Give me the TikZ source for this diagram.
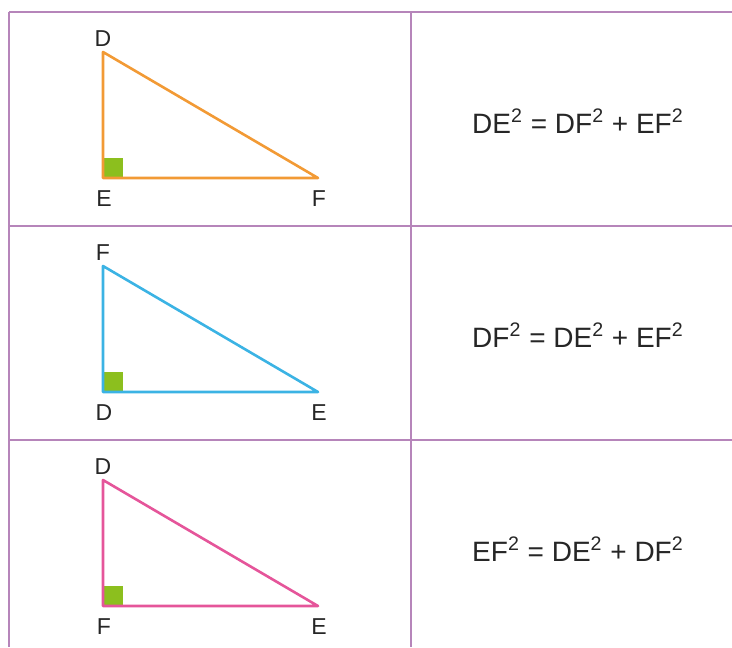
\documentclass[tikz,border=0pt]{standalone}
\usepackage{fontspec}
\setmainfont{Liberation Sans}
\definecolor{gridline}{HTML}{B685BA}
\definecolor{triorange}{HTML}{F29A35}
\definecolor{triblue}{HTML}{3BB3E4}
\definecolor{tripink}{HTML}{E5559A}
\definecolor{rightmark}{HTML}{8CBF1E}
\begin{document}
\begin{tikzpicture}[x=0.5pt,y=-0.5pt,
    vlabel/.style={font=\fontsize{11.5}{13}\selectfont, text=black!85, inner sep=0pt},
    side/.style={line width=1.3pt, line join=round},
    eqn/.style={font=\fontsize{14}{16}\selectfont, text=black!85, inner sep=0pt}]
    \useasboundingbox (0,0) rectangle (732,647);
    % table grid
    \draw[gridline, line width=1pt] (9,12) -- (732,12) (9,226) -- (732,226) (9,440) -- (732,440)
        (9,12) -- (9,647) (411,12) -- (411,647);
    % one row per triangle
    \foreach \r/\top/\corner/\tip/\col/\eq in {
        0/D/E/F/triorange/{DE\textsuperscript{2} = DF\textsuperscript{2} + EF\textsuperscript{2}},
        1/F/D/E/triblue/{DF\textsuperscript{2} = DE\textsuperscript{2} + EF\textsuperscript{2}},
        2/D/F/E/tripink/{EF\textsuperscript{2} = DE\textsuperscript{2} + DF\textsuperscript{2}}}
    {
        \coordinate (top\r) at (103,52+214*\r);
        \coordinate (corner\r) at (103,178+214*\r);
        \coordinate (tip\r) at (318,178+214*\r);
        \fill[rightmark] (corner\r) rectangle ++(20,-20);
        \draw[side, \col] (top\r) -- (corner\r) -- (tip\r) -- cycle;
        \node[vlabel] (labtop\r) at (103,39+214*\r) {\top};
        \node[vlabel] (labcorner\r) at (104,199+214*\r) {\corner};
        \node[vlabel] (labtip\r) at (319,199+214*\r) {\tip};
        \node[eqn] (eq\r) at (578,121+214*\r) {\eq};
    }
\end{tikzpicture}
\end{document}
